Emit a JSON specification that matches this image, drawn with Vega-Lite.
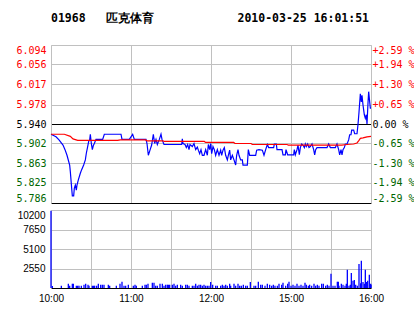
{
  "$schema": "https://vega.github.io/schema/vega-lite/v6.json",
  "background": "white",
  "padding": {"left": 15, "top": 12, "right": 0, "bottom": 5},
  "bounds": "flush",
  "spacing": 7,
  "title": {
    "text": "01968\u00a0\u00a0\u00a0匹克体育\u00a0\u00a0\u00a0\u00a0\u00a0\u00a0\u00a0\u00a0\u00a0\u00a0\u00a0\u00a02010-03-25\u00a016:01:51",
    "anchor": "start",
    "frame": "group",
    "font": "DejaVu Sans Mono",
    "fontSize": 11.5,
    "fontWeight": "bold",
    "color": "#000000",
    "offset": 21
  },
  "config": {"view": {"stroke": null}},
  "datasets": {
    "price": [
      {"t":0,"p":5.920},{"t":3.75,"p":5.915},{"t":6,"p":5.909},{"t":9,"p":5.899},{"t":10.5,"p":5.890},{"t":12,"p":5.879},{"t":14,"p":5.860},{"t":14.5,"p":5.847},{"t":15.5,"p":5.815},{"t":16,"p":5.800},{"t":17,"p":5.800},{"t":17.5,"p":5.815},{"t":18.25,"p":5.821},{"t":19,"p":5.811},{"t":19.5,"p":5.821},{"t":20.5,"p":5.831},{"t":22,"p":5.844},{"t":23,"p":5.851},{"t":24.5,"p":5.860},{"t":25.75,"p":5.870},{"t":26.5,"p":5.883},{"t":27.5,"p":5.896},{"t":28.25,"p":5.906},{"t":29,"p":5.909},{"t":29.5,"p":5.920},{"t":30.25,"p":5.902},{"t":31,"p":5.890},{"t":31.75,"p":5.898},{"t":32.5,"p":5.902},{"t":33.75,"p":5.910},{"t":38.75,"p":5.910},{"t":40,"p":5.920},{"t":52.5,"p":5.920},{"t":53.25,"p":5.910},{"t":58.75,"p":5.910},{"t":60,"p":5.915},{"t":61.25,"p":5.920},{"t":62.5,"p":5.910},{"t":71.25,"p":5.910},{"t":72,"p":5.902},{"t":73,"p":5.879},{"t":74.25,"p":5.889},{"t":75.5,"p":5.899},{"t":76.75,"p":5.920},{"t":77.75,"p":5.902},{"t":78.75,"p":5.910},{"t":79.75,"p":5.900},{"t":81.25,"p":5.910},{"t":82.5,"p":5.920},{"t":83.25,"p":5.910},{"t":84.75,"p":5.900},{"t":98,"p":5.900},{"t":98.5,"p":5.911},{"t":99,"p":5.902},{"t":100.5,"p":5.900},{"t":101.5,"p":5.894},{"t":102.5,"p":5.900},{"t":103.5,"p":5.890},{"t":104.25,"p":5.900},{"t":106,"p":5.896},{"t":107.25,"p":5.902},{"t":108.5,"p":5.890},{"t":109.75,"p":5.895},{"t":110.5,"p":5.889},{"t":111.5,"p":5.882},{"t":112.5,"p":5.890},{"t":113.5,"p":5.879},{"t":114.75,"p":5.879},{"t":116,"p":5.890},{"t":117.25,"p":5.879},{"t":118,"p":5.900},{"t":119,"p":5.890},{"t":119.75,"p":5.902},{"t":120.5,"p":5.882},{"t":121.5,"p":5.896},{"t":122.5,"p":5.890},{"t":123.5,"p":5.879},{"t":124.75,"p":5.890},{"t":126,"p":5.879},{"t":127.25,"p":5.889},{"t":128,"p":5.879},{"t":129,"p":5.889},{"t":130,"p":5.894},{"t":131,"p":5.879},{"t":132.25,"p":5.870},{"t":133,"p":5.879},{"t":134,"p":5.889},{"t":134.75,"p":5.870},{"t":136,"p":5.879},{"t":137.25,"p":5.870},{"t":138.5,"p":5.860},{"t":139.25,"p":5.879},{"t":140.25,"p":5.890},{"t":141,"p":5.879},{"t":142.25,"p":5.870},{"t":143.5,"p":5.870},{"t":144,"p":5.860},{"t":147.25,"p":5.860},{"t":148,"p":5.890},{"t":149,"p":5.879},{"t":153.5,"p":5.879},{"t":154.25,"p":5.889},{"t":156,"p":5.890},{"t":158.5,"p":5.889},{"t":159.75,"p":5.879},{"t":161,"p":5.890},{"t":162.25,"p":5.900},{"t":163.25,"p":5.894},{"t":167,"p":5.894},{"t":167.5,"p":5.901},{"t":169,"p":5.901},{"t":169.5,"p":5.890},{"t":173.25,"p":5.890},{"t":174,"p":5.880},{"t":175.75,"p":5.880},{"t":176.25,"p":5.890},{"t":177.5,"p":5.880},{"t":182,"p":5.880},{"t":182.5,"p":5.890},{"t":183.25,"p":5.880},{"t":184.5,"p":5.890},{"t":185.25,"p":5.899},{"t":186.25,"p":5.880},{"t":187,"p":5.894},{"t":188,"p":5.901},{"t":189,"p":5.899},{"t":190,"p":5.894},{"t":190.75,"p":5.901},{"t":191.5,"p":5.896},{"t":192.5,"p":5.901},{"t":193.5,"p":5.894},{"t":194.5,"p":5.896},{"t":195.75,"p":5.901},{"t":197,"p":5.890},{"t":197.75,"p":5.880},{"t":198.5,"p":5.890},{"t":199.5,"p":5.894},{"t":207,"p":5.894},{"t":208.25,"p":5.901},{"t":209.5,"p":5.894},{"t":213.25,"p":5.894},{"t":214.5,"p":5.901},{"t":215.75,"p":5.890},{"t":216.5,"p":5.880},{"t":217.5,"p":5.890},{"t":218.25,"p":5.880},{"t":219,"p":5.890},{"t":220,"p":5.894},{"t":220.75,"p":5.901},{"t":222,"p":5.901},{"t":223.25,"p":5.909},{"t":224,"p":5.919},{"t":225,"p":5.919},{"t":225.5,"p":5.928},{"t":227,"p":5.928},{"t":227.75,"p":5.921},{"t":229.5,"p":5.921},{"t":230.25,"p":5.939},{"t":231,"p":5.963},{"t":232,"p":5.999},{"t":232.75,"p":5.983},{"t":233.25,"p":5.996},{"t":234,"p":5.977},{"t":235,"p":5.958},{"t":235.75,"p":5.951},{"t":236.5,"p":5.958},{"t":237,"p":5.940},{"t":237.75,"p":5.981},{"t":238.25,"p":6.003},{"t":238.75,"p":5.990},{"t":239.5,"p":5.971},{"t":240,"p":5.971}
    ],
    "avg": [
      {"t":0,"p":5.920},{"t":10,"p":5.920},{"t":14.5,"p":5.916},{"t":16.5,"p":5.911},{"t":20,"p":5.908},{"t":50,"p":5.908},{"t":52,"p":5.909},{"t":71,"p":5.909},{"t":72,"p":5.907},{"t":84,"p":5.907},{"t":85,"p":5.906},{"t":115,"p":5.906},{"t":116,"p":5.904},{"t":137,"p":5.904},{"t":138,"p":5.902},{"t":150,"p":5.902},{"t":151,"p":5.900},{"t":177,"p":5.900},{"t":178,"p":5.899},{"t":218,"p":5.899},{"t":222,"p":5.900},{"t":227,"p":5.901},{"t":229.5,"p":5.903},{"t":231,"p":5.908},{"t":232,"p":5.912},{"t":234,"p":5.913},{"t":237,"p":5.915},{"t":240,"p":5.916}
    ],
    "vol": [
      {"t":0,"v":10100},{"t":1,"v":260},{"t":7.75,"v":305},{"t":13,"v":570},{"t":14,"v":305},{"t":16,"v":570},{"t":16.75,"v":570},{"t":19,"v":305},{"t":20,"v":305},{"t":21,"v":305},{"t":22.75,"v":305},{"t":24.75,"v":436},{"t":26,"v":570},{"t":27.75,"v":436},{"t":28.5,"v":305},{"t":31,"v":305},{"t":32,"v":305},{"t":32.75,"v":305},{"t":34.25,"v":305},{"t":35.5,"v":570},{"t":37.25,"v":436},{"t":38.5,"v":436},{"t":39.75,"v":436},{"t":43,"v":436},{"t":44,"v":305},{"t":49,"v":305},{"t":51.75,"v":570},{"t":53.25,"v":830},{"t":54.75,"v":305},{"t":56,"v":305},{"t":58,"v":436},{"t":61.75,"v":305},{"t":63,"v":436},{"t":64,"v":305},{"t":68.5,"v":305},{"t":70.5,"v":436},{"t":71.5,"v":436},{"t":72.75,"v":570},{"t":76,"v":700},{"t":77.25,"v":700},{"t":78.5,"v":305},{"t":79.75,"v":305},{"t":81.75,"v":570},{"t":83.5,"v":570},{"t":84.75,"v":305},{"t":86,"v":436},{"t":87.25,"v":436},{"t":88,"v":436},{"t":89,"v":436},{"t":91,"v":436},{"t":92.25,"v":570},{"t":93.5,"v":305},{"t":94.75,"v":436},{"t":97.25,"v":436},{"t":98.5,"v":305},{"t":101,"v":436},{"t":102.25,"v":436},{"t":103.5,"v":305},{"t":106,"v":305},{"t":107.25,"v":305},{"t":108.5,"v":570},{"t":109.75,"v":305},{"t":111,"v":436},{"t":112.25,"v":436},{"t":113.5,"v":305},{"t":114.75,"v":436},{"t":116,"v":305},{"t":117.25,"v":305},{"t":118.5,"v":305},{"t":119.75,"v":780},{"t":121.25,"v":436},{"t":123.5,"v":305},{"t":124.75,"v":305},{"t":127.25,"v":305},{"t":128.5,"v":436},{"t":129.75,"v":305},{"t":131,"v":436},{"t":132.25,"v":305},{"t":134,"v":570},{"t":134.75,"v":305},{"t":137.25,"v":570},{"t":138.5,"v":305},{"t":140.25,"v":570},{"t":141.5,"v":305},{"t":142.75,"v":305},{"t":144.25,"v":436},{"t":146,"v":305},{"t":147.25,"v":305},{"t":149.5,"v":780},{"t":152.25,"v":305},{"t":153.5,"v":305},{"t":155.5,"v":830},{"t":157.25,"v":436},{"t":158.5,"v":436},{"t":160.5,"v":305},{"t":162.25,"v":570},{"t":164,"v":436},{"t":165.5,"v":305},{"t":166.75,"v":436},{"t":168,"v":305},{"t":169.75,"v":305},{"t":171,"v":570},{"t":173,"v":436},{"t":174,"v":700},{"t":176,"v":305},{"t":177.5,"v":570},{"t":178.5,"v":830},{"t":180,"v":305},{"t":181.5,"v":436},{"t":183,"v":305},{"t":184.5,"v":570},{"t":186,"v":305},{"t":187.5,"v":436},{"t":189,"v":305},{"t":190.5,"v":700},{"t":191.5,"v":436},{"t":193,"v":305},{"t":194,"v":436},{"t":195.5,"v":305},{"t":197.25,"v":570},{"t":198.5,"v":305},{"t":199.75,"v":436},{"t":201,"v":305},{"t":203,"v":570},{"t":204.25,"v":570},{"t":206,"v":305},{"t":207.25,"v":436},{"t":208.5,"v":305},{"t":210,"v":1870},{"t":211.5,"v":305},{"t":213,"v":305},{"t":214.75,"v":830},{"t":215.5,"v":830},{"t":216,"v":305},{"t":217.75,"v":570},{"t":219,"v":436},{"t":220.5,"v":305},{"t":221.5,"v":570},{"t":222.25,"v":2400},{"t":223.5,"v":305},{"t":224.5,"v":436},{"t":225.25,"v":1960},{"t":226.5,"v":960},{"t":227.5,"v":1050},{"t":228.5,"v":436},{"t":229.75,"v":305},{"t":231,"v":3140},{"t":232.25,"v":610},{"t":232.75,"v":3575},{"t":234,"v":780},{"t":235,"v":570},{"t":235.75,"v":2400},{"t":236.5,"v":780},{"t":237.5,"v":960},{"t":238.75,"v":1745},{"t":239.75,"v":570},{"t":240,"v":436}
    ]
  },
  "vconcat": [
    {
      "width": 320,
      "height": 158,
      "resolve": {"axis": {"y": "independent"}},
      "layer": [
        {
          "data": {"name": "price"},
          "mark": {"type": "line", "color": "#0000ff", "strokeWidth": 1.2},
          "encoding": {
            "x": {"field": "t", "type": "quantitative",
              "scale": {"domain": [0, 240], "nice": false, "zero": false},
              "axis": {"values": [0,30,60,90,120,150,180,210,240], "grid": true, "gridColor": "#c0c0c0", "labels": false, "ticks": false, "domain": false, "title": null}},
            "y": {"field": "p", "type": "quantitative",
              "scale": {"domain": [5.786, 6.094], "nice": false, "zero": false},
              "axis": {
                "values": [6.094, 6.056, 6.017, 5.978, 5.94, 5.902, 5.863, 5.825, 5.786],
                "format": ".3f", "grid": true, "ticks": false,
                "gridColor": {"condition": [{"test": "datum.value > 5.93 && datum.value < 5.95", "value": "#000000"}, {"test": "datum.value < 5.79", "value": "#000000"}], "value": "#c0c0c0"},
                "domain": true, "domainColor": "#c0c0c0",
                "labelFont": "DejaVu Sans Mono", "labelFontSize": 10, "labelPadding": 5,
                "labelFlush": true, "labelOverlap": false, "title": null,
                "labelColor": {"condition": [{"test": "datum.value > 5.95", "value": "#ff0000"}, {"test": "datum.value < 5.93", "value": "#006600"}], "value": "#000000"}
              }}
          }
        },
        {
          "data": {"name": "avg"},
          "mark": {"type": "line", "color": "#ff0000", "strokeWidth": 1.2},
          "encoding": {
            "x": {"field": "t", "type": "quantitative"},
            "y": {"field": "p", "type": "quantitative",
              "axis": {
                "orient": "right",
                "values": [6.094, 6.056, 6.017, 5.978, 5.94, 5.902, 5.863, 5.825, 5.786],
                "grid": false, "ticks": false, "domain": true, "domainColor": "#c0c0c0",
                "labelFont": "DejaVu Sans Mono", "labelFontSize": 10, "labelPadding": 1,
                "labelFlush": true, "labelOverlap": false, "title": null,
                "labelExpr": "datum.value > 6.08 ? '+2.59\u00a0%' : datum.value > 6.04 ? '+1.94\u00a0%' : datum.value > 6.0 ? '+1.30\u00a0%' : datum.value > 5.96 ? '+0.65\u00a0%' : datum.value > 5.93 ? '\u00a00.00\u00a0%' : datum.value > 5.89 ? '-0.65\u00a0%' : datum.value > 5.85 ? '-1.30\u00a0%' : datum.value > 5.8 ? '-1.94\u00a0%' : '-2.59\u00a0%'",
                "labelColor": {"condition": [{"test": "datum.value > 5.95", "value": "#ff0000"}, {"test": "datum.value < 5.93", "value": "#006600"}], "value": "#000000"}
              }}
          }
        }
      ]
    },
    {
      "width": 320,
      "height": 78,
      "data": {"name": "vol"},
      "mark": {"type": "rule", "color": "#0000ff", "strokeWidth": 1.3},
      "encoding": {
        "x": {"field": "t", "type": "quantitative",
          "scale": {"domain": [0, 240], "nice": false, "zero": false},
          "axis": {"values": [0,30,60,90,120,150,180,210,240], "grid": true, "gridColor": "#c0c0c0", "ticks": false, "domain": false,
            "labelExpr": "datum.value == 0 ? '10:00' : datum.value == 60 ? '11:00' : datum.value == 120 ? '12:00' : datum.value == 180 ? '15:00' : datum.value == 240 ? '16:00' : ''",
            "labelFont": "Liberation Sans", "labelFontSize": 10, "labelPadding": 5, "labelOverlap": false, "labelFlush": false, "labelColor": "#000000", "title": null}},
        "y": {"field": "v", "type": "quantitative",
          "scale": {"domain": [0, 10200], "nice": false},
          "axis": {"values": [0, 2550, 5100, 7650, 10200], "format": "d",
            "labelExpr": "datum.value == 0 ? '' : datum.label",
            "grid": true, "ticks": false, "domain": true, "domainColor": "#c0c0c0",
            "gridColor": {"condition": {"test": "datum.value == 0", "value": "#000000"}, "value": "#c0c0c0"},
            "labelFlush": true, "labelPadding": 6, "labelFont": "Liberation Sans", "labelFontSize": 10, "labelColor": "#000000", "labelOverlap": false, "title": null}},
        "y2": {"datum": 0}
      }
    }
  ]
}
